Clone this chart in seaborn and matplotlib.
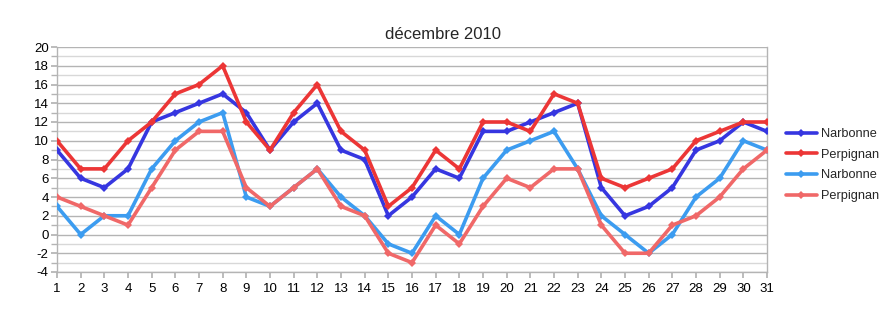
import matplotlib
matplotlib.use("Agg")
import matplotlib.pyplot as plt
import seaborn as sns
import pandas as pd
import numpy as np
from matplotlib.lines import Line2D

days = list(range(1, 32))
narbonne_max = [9,6,5,7,12,13,14,15,13,9,12,14,9,8,2,4,7,6,11,11,12,13,14,5,2,3,5,9,10,12,11]
perpignan_max = [10,7,7,10,12,15,16,18,12,9,13,16,11,9,3,5,9,7,12,12,11,15,14,6,5,6,7,10,11,12,12]
narbonne_min = [3,0,2,2,7,10,12,13,4,3,5,7,4,2,-1,-2,2,0,6,9,10,11,7,2,0,-2,0,4,6,10,9]
perpignan_min = [4,3,2,1,5,9,11,11,5,3,5,7,3,2,-2,-3,1,-1,3,6,5,7,7,1,-2,-2,1,2,4,7,9]
series_names = ["Narbonne", "Perpignan", "Narbonne ", "Perpignan "]
legend_labels = ["Narbonne", "Perpignan", "Narbonne", "Perpignan"]
colors = ["#3636e0", "#ec3636", "#3c9cf0", "#f06868"]
title = "décembre 2010"

sns.set_theme(style="white")
plt.rcParams['font.family'] = ['Liberation Sans', 'DejaVu Sans']
plt.rcParams['axes.unicode_minus'] = False

fig = plt.figure(figsize=(8.88, 3.25), dpi=100)
ax = fig.add_axes([57/888, 1-272/325, (767-57)/888, (272-47)/325])

rows = []
for name, vals in zip(series_names, [narbonne_max, perpignan_max, narbonne_min, perpignan_min]):
    for d, v in zip(days, vals):
        rows.append({"day": d, "temp": v, "serie": name})
df = pd.DataFrame(rows)

for y in range(-4, 21):
    ax.axhline(y, color="#b4b4b4" if y % 2 == 0 else "#d8d8d8", lw=1.0, zorder=0)

sns.lineplot(data=df, x="day", y="temp", hue="serie", hue_order=series_names,
             palette=colors, marker="D", markersize=4, markeredgewidth=0,
             linewidth=2.6, ax=ax, legend=False, zorder=3)

ax.set_xlim(1, 31)
ax.set_ylim(-4, 20)
ax.set_xticks(days)
ax.set_yticks(range(-4, 21, 2))
ax.set_yticks(range(-4, 21, 1), minor=True)
ax.set_xlabel("")
ax.set_ylabel("")
ax.spines["top"].set_visible(False)
for s in ["left", "bottom", "right"]:
    ax.spines[s].set_color("#b4b4b4")
    ax.spines[s].set_linewidth(1.0)
ax.tick_params(axis="both", which="both", length=4, color="#b4b4b4", labelsize=9.5,
               labelcolor="black", pad=2, direction="out", left=True, bottom=True)
ax.tick_params(axis="x", pad=4)
ax.set_title(title, fontsize=12, pad=0, x=(443-57)/710, y=1.035)

handles = [Line2D([0], [0], color=c, lw=2.6, marker="D", markersize=4.5, markeredgewidth=0) for c in colors]
fig.legend(handles, legend_labels, loc="upper left", bbox_to_anchor=(786/888, 1-128/325),
           frameon=False, fontsize=9.2, handlelength=2.4, handletextpad=0.3, labelspacing=0.68,
           borderaxespad=0, borderpad=0)

fig.savefig("out.png", dpi=100, facecolor="white")
